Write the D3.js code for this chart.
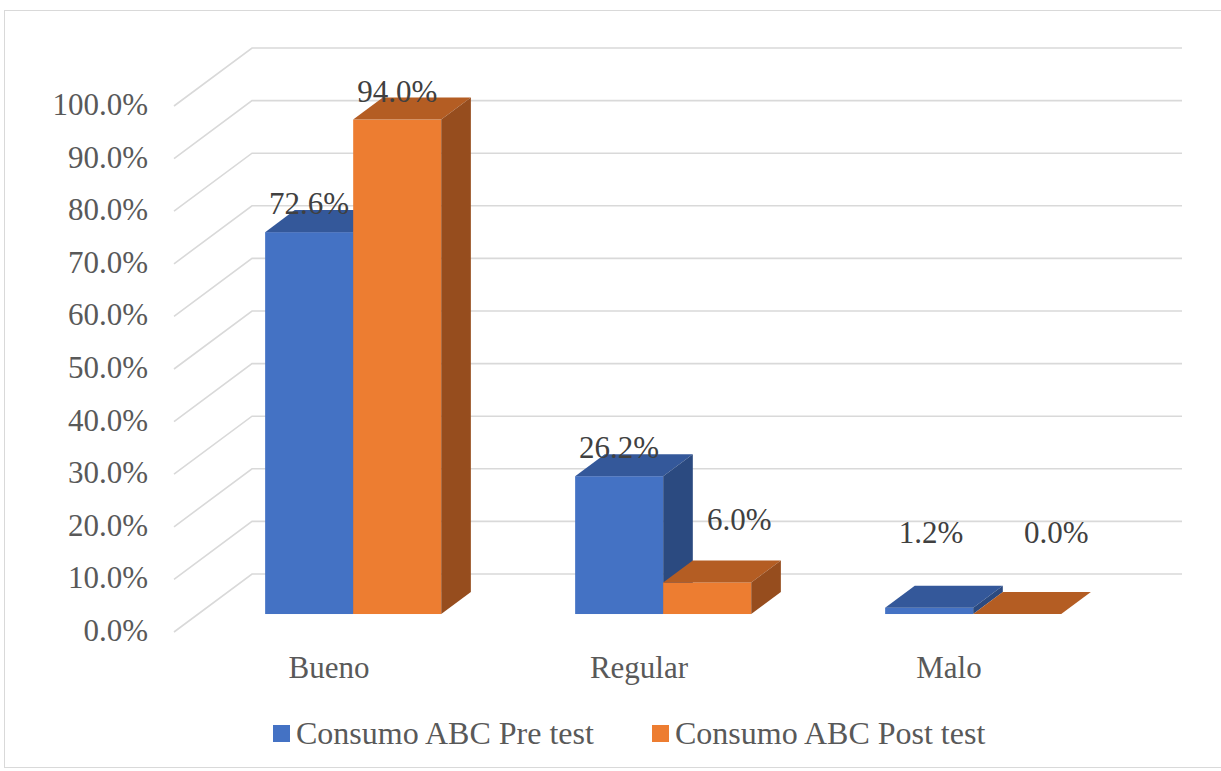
<!DOCTYPE html>
<html>
<head>
<meta charset="utf-8">
<script src="https://cdn.jsdelivr.net/npm/d3@7"></script>
<style>
  body { margin: 0; background: #fff; }
  svg text { font-family: "Liberation Serif", "Times New Roman", Tinos, "DejaVu Serif", serif; }
  .tick-label, .cat-label { fill: #595959; font-size: 31px; }
  .legend-label { fill: #595959; font-size: 32px; }
  .value-label { fill: #404040; font-size: 31px; }
  .grid { stroke: #d9d9d9; stroke-width: 1.6; fill: none; }
</style>
</head>
<body>
<div id="chart"></div>
<script>
// data
const categories = ['Bueno', 'Regular', 'Malo']
const seriesNames = ['Consumo ABC Pre test', 'Consumo ABC Post test']
const preTest = [72.6, 26.2, 1.2]
const postTest = [94.0, 6.0, 0.0]
const yTicks = [0, 10, 20, 30, 40, 50, 60, 70, 80, 90, 100]

const width = 1221
const height = 771

const colors = [
  { front: '#4472c4', top: '#34589a', side: '#2b4a80' },
  { front: '#ed7d31', top: '#b45d23', side: '#964d1e' }
]

// oblique depth offset (full depth of the plot box)
const depthX = 78
const depthY = -58
// bars sit in the middle of the depth
const z0 = 0.31
const z1 = 0.69

const svg = d3.select('#chart')
  .append('svg')
  .attr('width', width)
  .attr('height', height)

// chart border
svg.append('rect')
  .attr('x', 4.5).attr('y', 10.5)
  .attr('width', 1240).attr('height', 757)
  .attr('fill', '#fff')
  .attr('stroke', '#d9d9d9')
  .attr('stroke-width', 1)

const x0 = d3.scaleBand()
  .domain(categories)
  .range([174, 1104])
  .paddingInner(0.432)
  .paddingOuter(0.216)

const x1 = d3.scaleBand()
  .domain(seriesNames)
  .range([0, x0.bandwidth()])

const y = d3.scaleLinear()
  .domain([0, 100])
  .range([632, 106])

const [plotLeft, plotRight] = x0.range()

// gridlines: left wall diagonal + back wall line
const grid = svg.append('g').attr('id', 'grid')
yTicks.forEach(t => {
  const yf = y(t)
  grid.append('path')
    .attr('class', 'grid')
    .attr('d', `M${plotLeft},${yf}L${plotLeft + depthX},${yf + depthY}L${plotRight + depthX},${yf + depthY}`)
})

// y axis labels
svg.append('g').selectAll('text')
  .data(yTicks)
  .join('text')
    .attr('class', 'tick-label')
    .attr('x', 148)
    .attr('y', d => y(d) + 9)
    .attr('text-anchor', 'end')
    .text(d => d.toFixed(1) + '%')

// category labels
svg.append('g').selectAll('text')
  .data(categories)
  .join('text')
    .attr('class', 'cat-label')
    .attr('x', d => x0(d) + x0.bandwidth() / 2)
    .attr('y', 678)
    .attr('text-anchor', 'middle')
    .text(d => d)

// bars
const series = [preTest, postTest]
const points = []
categories.forEach((c, ci) => {
  series.forEach((vals, si) => {
    points.push({ cat: c, ci, si, value: vals[ci] })
  })
})

const bars = svg.append('g').attr('id', 'bars')
points.forEach(p => {
  const col = colors[p.si]
  const xl = x0(p.cat) + x1(seriesNames[p.si])
  const xr = xl + x1.bandwidth()
  const fx = z0 * depthX, fy = z0 * depthY
  const bx = z1 * depthX, by = z1 * depthY
  const yb = y(0), yt = y(p.value)
  const g = bars.append('g')
  // front face
  g.append('rect')
    .attr('x', xl + fx).attr('y', yt + fy)
    .attr('width', xr - xl).attr('height', yb - yt)
    .attr('fill', col.front)
  // top face
  g.append('path')
    .attr('d', `M${xl + fx},${yt + fy}L${xr + fx},${yt + fy}L${xr + bx},${yt + by}L${xl + bx},${yt + by}Z`)
    .attr('fill', col.top)
  // right side face
  g.append('path')
    .attr('d', `M${xr + fx},${yt + fy}L${xr + bx},${yt + by}L${xr + bx},${yb + by}L${xr + fx},${yb + fy}Z`)
    .attr('fill', col.side)
})

// data labels (Excel nudged some of the short ones)
const labelNudge = {
  'Regular-1': [32, -34],
  'Malo-0': [2, -47],
  'Malo-1': [39, -53]
}
svg.append('g').selectAll('text')
  .data(points)
  .join('text')
    .attr('class', 'value-label')
    .attr('x', d => {
      const n = labelNudge[d.cat + '-' + d.si] || [0, 0]
      return x0(d.cat) + x1(seriesNames[d.si]) + x1.bandwidth() / 2 + z0 * depthX + n[0]
    })
    .attr('y', d => {
      const n = labelNudge[d.cat + '-' + d.si] || [0, 0]
      return y(d.value) + z0 * depthY - 18 + n[1]
    })
    .attr('text-anchor', 'middle')
    .text(d => d.value.toFixed(1) + '%')

// legend
const legend = svg.append('g').attr('id', 'legend')
const legendX = [273, 652]
seriesNames.forEach((name, i) => {
  legend.append('rect')
    .attr('x', legendX[i]).attr('y', 725)
    .attr('width', 17).attr('height', 17)
    .attr('fill', colors[i].front)
  legend.append('text')
    .attr('class', 'legend-label')
    .attr('x', legendX[i] + 23)
    .attr('y', 744)
    .text(name)
})
</script>
</body>
</html>
